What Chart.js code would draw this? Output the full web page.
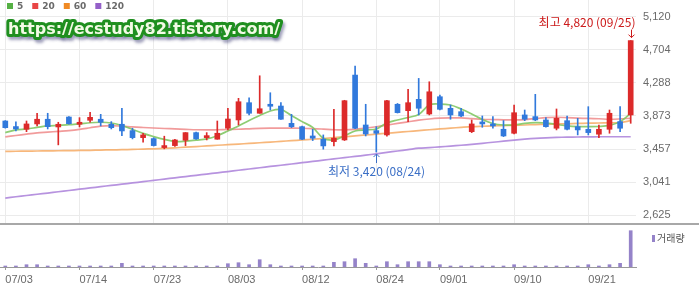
<!DOCTYPE html>
<html>
<head>
<meta charset="utf-8">
<script src="https://cdn.jsdelivr.net/npm/chart.js@4.4.0/dist/chart.umd.min.js"></script>
<style>
  body { margin: 0; background: #fff; }
  #wrap { position: relative; width: 699px; height: 288px; overflow: hidden; }
  #priceChart { position: absolute; left: 0; top: 0; }
  #volChart { position: absolute; left: 0; top: 224px; }
  #sep { position: absolute; left: 0; top: 223px; width: 699px; height: 2px; background: #a8a8a8; }
</style>
</head>
<body>
<div id="wrap">
  <canvas id="priceChart" width="699" height="224"></canvas>
  <canvas id="volChart" width="699" height="64"></canvas>
  <div id="sep"></div>
</div>
<script>
const dates = [
  '07/03','07/06','07/07','07/08','07/09','07/10','07/13','07/14','07/15','07/16',
  '07/17','07/20','07/21','07/22','07/23','07/24','07/27','07/28','07/29','07/30',
  '07/31','08/03','08/04','08/05','08/06','08/07','08/10','08/11','08/12','08/13',
  '08/14','08/18','08/19','08/20','08/21','08/24','08/25','08/26','08/27','08/28',
  '08/31','09/01','09/02','09/03','09/04','09/07','09/08','09/09','09/10','09/11',
  '09/14','09/15','09/16','09/17','09/18','09/21','09/22','09/23','09/24','09/25',
];
const tickDates = ['07/03','07/14','07/23','08/03','08/12','08/24','09/01','09/10','09/21'];
const priceTicks = [2625, 3041, 3457, 3873, 4288, 4704, 5120];

const opens = [
  3810, 3740, 3706, 3773, 3832, 3735, 3860, 3769, 3819, 3832,
  3769, 3769, 3689, 3601, 3589, 3476, 3501, 3568, 3664, 3601,
  3581, 3719, 3823, 4040, 3907, 4020, 3998, 3781, 3739, 3622,
  3581, 3551, 3572, 4387, 3760, 3689, 3635, 4020, 3940, 4082,
  3898, 4115, 3969, 3927, 3676, 3794, 3764, 3706, 3656, 3886,
  3865, 3823, 3719, 3814, 3739, 3706, 3644, 3706, 3802, 3886,
];
const highs = [
  3815, 3800, 3810, 3907, 3907, 3794, 3865, 3852, 3919, 3894,
  3802, 3969, 3719, 3656, 3600, 3619, 3580, 3664, 3670, 3664,
  3810, 3969, 4095, 4102, 4378, 4165, 4040, 3894, 3745, 3706,
  3635, 3957, 4070, 4500, 4020, 3739, 4070, 4030, 4208, 4345,
  4303, 4136, 4011, 3969, 3823, 3873, 3865, 3815, 4011, 3948,
  4145, 3852, 3961, 3873, 3844, 3990, 3760, 3948, 3990, 4820,
];
const lows = [
  3720, 3685, 3676, 3748, 3710, 3510, 3770, 3735, 3794, 3748,
  3710, 3626, 3585, 3543, 3495, 3460, 3490, 3501, 3580, 3572,
  3581, 3698, 3760, 3886, 3907, 3948, 3830, 3727, 3575, 3564,
  3456, 3497, 3565, 3715, 3622, 3420, 3620, 3910, 3802, 3886,
  3886, 3948, 3832, 3865, 3664, 3731, 3719, 3614, 3647, 3814,
  3814, 3731, 3698, 3698, 3635, 3635, 3601, 3656, 3676, 3781,
];
const closes = [
  3726, 3710, 3773, 3832, 3739, 3769, 3776, 3789, 3856, 3794,
  3726, 3685, 3601, 3635, 3501, 3501, 3572, 3664, 3585, 3622,
  3656, 3835, 4052, 3907, 3964, 3995, 3832, 3739, 3581, 3594,
  3497, 3594, 4065, 3719, 3647, 3656, 4065, 3915, 4040, 3970,
  4177, 3957, 3886, 3873, 3773, 3773, 3748, 3622, 3914, 3832,
  3823, 3739, 3844, 3706, 3698, 3664, 3706, 3907, 3719, 4820,
];

const ma5 = [
  3664, 3698, 3710, 3729, 3748, 3754, 3763, 3773, 3788, 3794,
  3785, 3754, 3704, 3654, 3614, 3579, 3553, 3557, 3570, 3585,
  3625, 3685, 3748, 3817, 3879, 3936, 3954, 3879, 3802, 3729,
  3594, 3572, 3622, 3685, 3698, 3710, 3785, 3823, 3854, 3892,
  4011, 4023, 4011, 3961, 3898, 3829, 3779, 3760, 3760, 3779,
  3789, 3785, 3767, 3748, 3739, 3739, 3741, 3754, 3802, 3907,
];
const ma20 = [
  3610, 3628, 3645, 3660, 3670, 3680, 3690, 3705, 3725, 3745,
  3752, 3745, 3735, 3728, 3722, 3716, 3710, 3705, 3700, 3698,
  3700, 3703, 3706, 3712, 3718, 3720, 3720, 3720, 3719, 3715,
  3708, 3700, 3698, 3705, 3720, 3738, 3758, 3780, 3800, 3820,
  3835, 3845, 3850, 3848, 3840, 3832, 3828, 3825, 3823, 3828,
  3840, 3852, 3857, 3852, 3846, 3842, 3838, 3832, 3836, 3844,
];
const ma60 = [
  3428, 3430, 3431, 3433, 3434, 3436, 3438, 3440, 3442, 3445,
  3447, 3450, 3453, 3457, 3461, 3466, 3473, 3481, 3489, 3497,
  3505, 3512, 3520, 3528, 3537, 3545, 3554, 3563, 3572, 3581,
  3590, 3601, 3612, 3623, 3634, 3645, 3656, 3667, 3678, 3689,
  3700, 3710, 3720, 3730, 3739, 3744, 3748, 3752, 3756, 3760,
  3765, 3768, 3772, 3775, 3779, 3782, 3785, 3788, 3790, 3814,
];
const ma120 = [
  2842, 2858, 2874, 2890, 2905, 2921, 2937, 2953, 2969, 2985,
  3001, 3016, 3032, 3048, 3064, 3080, 3096, 3112, 3128, 3143,
  3159, 3175, 3191, 3207, 3223, 3239, 3254, 3270, 3286, 3302,
  3318, 3334, 3350, 3365, 3381, 3397, 3415, 3433, 3450, 3468,
  3476, 3485, 3495, 3505, 3517, 3530, 3543, 3556, 3570, 3582,
  3592, 3599, 3604, 3607, 3609, 3611, 3612, 3612, 3612, 3612,
];
// volume, thousand shares
const volumes = [
  100, 100, 230, 230, 100, 100, 100, 100, 100, 100,
  100, 370, 100, 100, 100, 100, 100, 100, 50, 100,
  100, 330, 430, 230, 730, 230, 100, 100, 100, 50,
  100, 470, 530, 830, 370, 100, 530, 230, 530, 530,
  530, 230, 100, 100, 100, 100, 100, 100, 230, 100,
  100, 100, 100, 100, 50, 230, 100, 230, 370, 3630,
];

const RED = '#dc2a2a';
const BLUE = '#3179dc';
const candleColors = opens.map((o, i) => closes[i] >= o ? RED : BLUE);
const isTick = (i) => tickDates.includes(dates[i]);
const fmt = (v) => v.toLocaleString('en-US');

const maLines = [
  { label: '5', data: ma5, line: 'rgba(130,200,100,0.9)', box: '#55b044' },
  { label: '20', data: ma20, line: 'rgba(238,130,130,0.8)', box: '#e84545' },
  { label: '60', data: ma60, line: 'rgba(246,170,100,0.85)', box: '#f08a24' },
  { label: '120', data: ma120, line: 'rgba(175,135,220,0.9)', box: '#9460c8' },
];

const overlayPlugin = {
  id: 'overlay',
  afterDatasetsDraw(chart) {
    const { ctx, scales: { x, y } } = chart;
    ctx.save();
    // highest / lowest marks
    const hi = highs.indexOf(Math.max(...highs));
    const lo = lows.indexOf(Math.min(...lows));
    ctx.font = '12px "Noto Sans CJK KR"';
    ctx.textBaseline = 'middle';

    let px = Math.round(x.getPixelForValue(hi)) + 0.5;
    let py = y.getPixelForValue(highs[hi]);
    ctx.fillStyle = '#cc1a1a';
    ctx.strokeStyle = '#cc1a1a';
    ctx.lineWidth = 1;
    ctx.textAlign = 'right';
    ctx.fillText('최고 ' + fmt(highs[hi]) + ' (' + dates[hi] + ')', px + 4, py - 18);
    ctx.beginPath();
    ctx.moveTo(px, py - 11); ctx.lineTo(px, py - 3);
    ctx.moveTo(px - 3, py - 6); ctx.lineTo(px, py - 3); ctx.lineTo(px + 3, py - 6);
    ctx.stroke();

    px = Math.round(x.getPixelForValue(lo)) + 0.5;
    py = y.getPixelForValue(lows[lo]);
    ctx.fillStyle = '#3b6fc6';
    ctx.strokeStyle = '#3b6fc6';
    ctx.textAlign = 'center';
    ctx.fillText('최저 ' + fmt(lows[lo]) + ' (' + dates[lo] + ')', px, py + 19);
    ctx.beginPath();
    ctx.moveTo(px, py + 11); ctx.lineTo(px, py + 2);
    ctx.moveTo(px - 3, py + 5); ctx.lineTo(px, py + 2); ctx.lineTo(px + 3, py + 5);
    ctx.stroke();
    ctx.restore();
  },
  afterDraw(chart) {
    const ctx = chart.ctx;
    ctx.save();
    // legend
    ctx.font = 'bold 9px "DejaVu Sans"';
    ctx.textBaseline = 'middle';
    ctx.textAlign = 'left';
    let lx = 7;
    maLines.forEach((m) => {
      ctx.fillStyle = m.box;
      ctx.fillRect(lx, 3, 6, 6);
      ctx.fillStyle = '#6a6a6a';
      ctx.fillText(m.label, lx + 10, 6.5);
      lx += 10 + ctx.measureText(m.label).width + 9;
    });
    // blog watermark
    const mark = 'https://ecstudy82.tistory.com/';
    ctx.font = 'bold 16px "DejaVu Sans"';
    ctx.textBaseline = 'alphabetic';
    ctx.lineJoin = 'round';
    ctx.shadowColor = 'rgba(50,50,110,0.45)';
    ctx.shadowBlur = 3;
    ctx.shadowOffsetX = 2;
    ctx.shadowOffsetY = 3;
    ctx.strokeStyle = '#1f8f1f';
    ctx.lineWidth = 6;
    ctx.strokeText(mark, 8, 34);
    ctx.shadowColor = 'transparent';
    ctx.fillStyle = '#f3fbe6';
    ctx.fillText(mark, 8, 34);
    ctx.restore();
  },
};

const priceChart = new Chart(document.getElementById('priceChart'), {
  type: 'bar',
  data: {
    labels: dates,
    datasets: [
      ...maLines.map((m, k) => ({
        type: 'line',
        label: m.label,
        data: m.data,
        borderColor: m.line,
        borderWidth: 1.7,
        pointRadius: 0,
        tension: 0.35,
        order: 10 + k,
      })),
      {
        label: 'wick',
        data: dates.map((d, i) => [lows[i], highs[i]]),
        backgroundColor: candleColors,
        barThickness: 1,
        grouped: false,
        order: 2,
      },
      {
        label: 'body',
        data: dates.map((d, i) => [opens[i], closes[i]]),
        backgroundColor: candleColors,
        barThickness: 5,
        minBarLength: 2,
        grouped: false,
        order: 1,
      },
    ],
  },
  options: {
    responsive: false,
    animation: false,
    devicePixelRatio: 1,
    layout: { padding: 0 },
    plugins: { legend: { display: false }, tooltip: { enabled: false } },
    scales: {
      x: {
        offset: true,
        grid: {
          offset: false,
          drawTicks: false,
          color: (c) => (isTick(c.index) ? '#ebebeb' : 'rgba(0,0,0,0)'),
        },
        ticks: { display: false },
        border: { display: false },
        afterFit: (a) => { a.height = 0; a.paddingLeft = 0; a.paddingRight = 0; },
      },
      y: {
        position: 'right',
        min: 2516,
        max: 5330,
        afterBuildTicks: (a) => { a.ticks = priceTicks.map((v) => ({ value: v })); },
        ticks: {
          callback: (v) => fmt(v),
          color: '#6a6a6a',
          padding: 7,
          font: { size: 11, family: '"Liberation Sans", Arial' },
        },
        grid: { color: '#ebebeb', drawTicks: false },
        border: { display: false },
        afterFit: (a) => { a.width = 63; a.paddingTop = 0; a.paddingBottom = 0; },
      },
    },
  },
  plugins: [overlayPlugin],
});

const volLegend = {
  id: 'volLegend',
  afterDraw(chart) {
    const ctx = chart.ctx;
    ctx.save();
    ctx.fillStyle = '#9583c9';
    ctx.fillRect(652, 11, 3, 7);
    ctx.fillStyle = '#555';
    ctx.font = '10px "Noto Sans CJK KR"';
    ctx.textBaseline = 'middle';
    ctx.fillText('거래량', 657, 14);
    ctx.restore();
  },
};

const volChart = new Chart(document.getElementById('volChart'), {
  type: 'bar',
  data: {
    labels: dates,
    datasets: [{
      label: '거래량',
      data: volumes,
      backgroundColor: '#9583c9',
      barThickness: 3,
      minBarLength: 1,
    }],
  },
  options: {
    responsive: false,
    animation: false,
    devicePixelRatio: 1,
    layout: { padding: { top: 1, right: 63, left: 0, bottom: 0 } },
    plugins: { legend: { display: false }, tooltip: { enabled: false } },
    scales: {
      x: {
        offset: true,
        grid: {
          offset: false,
          drawOnChartArea: false,
          drawTicks: true,
          tickLength: 3,
          tickColor: (c) => (isTick(c.index) ? '#999' : 'rgba(0,0,0,0)'),
        },
        border: { display: true, color: '#999' },
        ticks: {
          autoSkip: false,
          maxRotation: 0,
          align: 'start',
          padding: 3,
          color: '#6a6a6a',
          font: { size: 11, family: '"Liberation Sans", Arial' },
          callback: (v, i) => (isTick(i) ? dates[i] : ''),
        },
        afterFit: (a) => { a.height = 21; a.paddingLeft = 0; a.paddingRight = 0; },
      },
      y: { display: false, min: 0, max: 4200 },
    },
  },
  plugins: [volLegend],
});
</script>
</body>
</html>
